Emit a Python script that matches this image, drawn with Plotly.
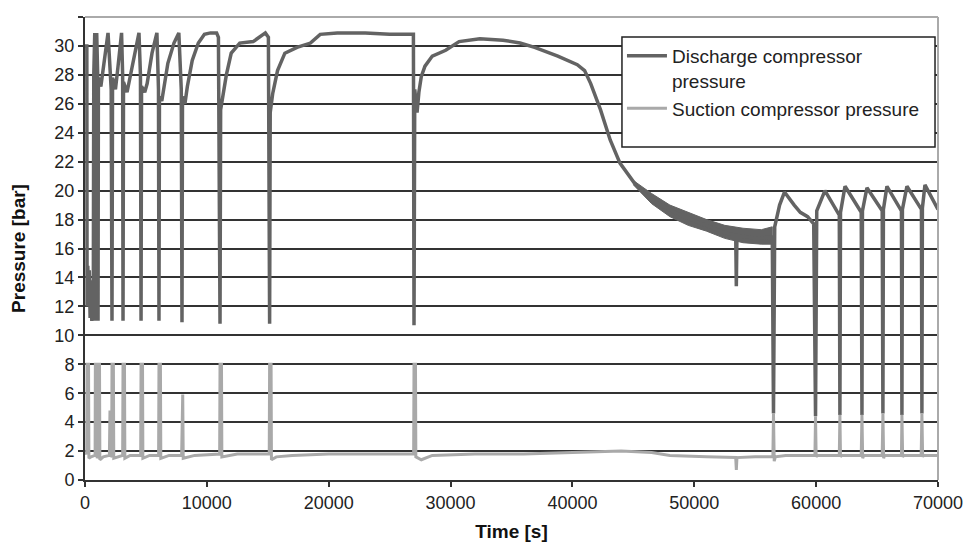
import plotly.graph_objects as go

# ---------------- data ----------------
# Discharge compressor pressure [bar] vs time [s]
discharge_t = [
    0, 150, 170, 230, 290, 350, 420, 480, 560, 620, 680, 720, 800, 830, 850, 880, 960, 1040, 1070, 1100,
    1300, 1500, 1890, 2150, 2215, 2260, 2500, 2700, 3000, 3090, 3120, 3160, 3450, 3650, 4000, 4430, 4550,
    4600, 4640, 4900, 5100, 5500, 5900, 6030, 6070, 6110, 6300, 6450, 6800, 7300, 7700, 7900, 7960, 8000,
    8200, 8400, 8800, 9300, 9800, 10300, 10800, 10950, 11080, 11130, 11300, 11600, 12000, 12700, 13800,
    14800, 15050, 15150, 15200, 15400, 15800, 16400, 17400, 18500, 19300, 20700, 23000, 25000, 26900,
    26950, 27000, 27060, 27250, 27400, 27600, 27900, 28500, 29600, 30700, 32400, 34300, 35700, 36900,
    38800, 40400, 41000, 41500, 42300, 43100, 43900, 45100, 46400, 48400, 50300, 52500, 53400, 53450,
    53500, 55200, 56400, 56500, 56600, 57000, 57400, 58200, 58700, 59300, 59800, 59950, 60050, 60720,
    61900, 61950, 62000, 62370, 63700, 63760, 63800, 64170, 65420, 65480, 65520, 65810, 67000, 67040,
    67080, 67450, 68640, 68680, 68720, 68930, 70000,
]
discharge_p = [
    30.0, 30.0, 12.0, 14.8, 12.5, 14.5, 11.2, 13.8, 11.0, 13.0, 12.0, 28.0, 30.9, 28.0, 11.0, 27.5, 30.9, 28.0, 11.0, 27.8,
    27.2, 28.5, 30.9, 27.0, 11.0, 27.8, 27.0, 28.5, 30.9, 28.0, 11.0, 27.5, 26.8, 27.6, 29.0, 30.9, 28.0,
    11.0, 27.2, 26.8, 27.4, 29.5, 30.9, 27.0, 11.0, 26.5, 26.2, 27.0, 28.8, 30.2, 30.9, 27.0, 10.9, 26.5,
    26.0, 27.2, 29.0, 30.2, 30.8, 30.9, 30.9, 30.6, 10.8, 25.6, 26.5, 28.0, 29.5, 30.2, 30.3,
    30.9, 30.6, 10.8, 25.4, 26.7, 28.3, 29.5, 29.9, 30.2, 30.8, 30.9, 30.9, 30.8, 30.8,
    30.8, 10.7, 27.0, 25.4, 26.8, 27.9, 28.6, 29.3, 29.7, 30.3, 30.5, 30.4, 30.2, 29.9,
    29.3, 28.7, 28.3, 27.4, 25.6, 23.5, 21.9, 20.5, 19.4, 18.5, 17.8, 17.1, 16.9, 13.4,
    16.9, 16.7, 16.8, 4.6, 17.5, 19.0, 19.9, 19.0, 18.5, 18.2, 17.7, 4.4, 18.6, 20.0,
    18.3, 4.5, 18.5, 20.3, 18.5, 4.5, 18.6, 20.2, 18.6, 4.6, 18.7, 20.3, 18.6, 4.5,
    18.7, 20.3, 18.7, 4.6, 18.8, 20.4, 18.7,
]

# noisy band of the discharge signal (upper / lower envelope)
band_t = [45000, 46500, 48000, 49500, 51000, 52500, 54000, 55500, 56400]
band_hi = [20.7, 19.8, 19.0, 18.5, 18.0, 17.6, 17.4, 17.3, 17.5]
band_lo = [20.4, 19.1, 18.2, 17.6, 17.2, 16.7, 16.4, 16.3, 16.3]

# Suction compressor pressure [bar] vs time [s]
suction_t = [
    0, 140, 170, 290, 320, 500, 800, 830, 850, 970, 1000, 1040, 1070, 1190, 1220, 1500, 2000, 2050, 2090,
    2190, 2215, 2330, 2360, 2700, 3090, 3120, 3240, 3270, 3700, 4570, 4600, 4720, 4750, 5300, 6040, 6070,
    6190, 6220, 6900, 7930, 7960, 8020, 8060, 9000, 11050, 11080, 11200, 11230, 12500, 15120, 15150, 15270,
    15300, 15700, 17000, 20000, 23000, 26970, 27000, 27120, 27150, 27600, 28500, 32000, 36000, 40000,
    44000, 46500, 48000, 51000, 53400, 53450, 53500, 55000, 56450, 56500, 56560, 56650, 57500, 59900,
    59950, 60000, 60100, 61900, 61950, 62000, 62100, 63700, 63760, 63820, 63900, 65420, 65480, 65540,
    65600, 67000, 67040, 67100, 67180, 68620, 68680, 68740, 68800, 70000,
]
suction_p = [
    1.9, 1.8, 8.0, 8.0, 1.5, 1.6, 1.7, 1.7, 8.0, 8.0, 1.5, 1.6, 8.0, 8.0, 1.4, 1.6, 1.7, 4.8, 1.6,
    1.7, 8.0, 8.0, 1.5, 1.6, 1.7, 8.0, 8.0, 1.5, 1.7, 1.7, 8.0, 8.0, 1.5, 1.7, 1.7, 8.0,
    8.0, 1.5, 1.7, 1.7, 5.9, 5.9, 1.5, 1.7, 1.8, 8.0, 8.0, 1.6, 1.8, 1.8, 8.0, 8.0,
    1.4, 1.6, 1.7, 1.8, 1.8, 1.8, 8.0, 8.0, 1.6, 1.4, 1.7, 1.8, 1.8, 1.9,
    2.0, 1.9, 1.7, 1.6, 1.55, 0.7, 1.55, 1.6, 1.6, 4.6, 1.3, 1.6, 1.7, 1.7,
    4.4, 1.6, 1.7, 1.7, 4.5, 1.6, 1.7, 1.7, 4.5, 1.5, 1.7, 1.7, 4.6, 1.5,
    1.7, 1.7, 4.5, 1.6, 1.7, 1.7, 4.6, 1.6, 1.7, 1.7,
]

x_ticks = [0, 10000, 20000, 30000, 40000, 50000, 60000, 70000]
y_ticks = list(range(0, 33, 2))

DISCHARGE = "#636363"
SUCTION = "#a9a9a9"
GRID = "#333333"
FONT = "Liberation Sans, Arial, sans-serif"

fig = go.Figure()

fig.add_trace(go.Scatter(
    x=band_t + band_t[::-1], y=band_hi + band_lo[::-1],
    fill="toself", fillcolor=DISCHARGE, line=dict(color=DISCHARGE, width=1),
    mode="lines", showlegend=False, hoverinfo="skip",
))
fig.add_trace(go.Scatter(
    x=discharge_t, y=discharge_p, mode="lines",
    name="Discharge compressor<br>pressure",
    line=dict(color=DISCHARGE, width=3.5),
))
fig.add_trace(go.Scatter(
    x=suction_t, y=suction_p, mode="lines",
    name="Suction compressor pressure",
    line=dict(color=SUCTION, width=3),
))

# the page adds an 8 px body margin, so the figure is 8 px smaller and margins shifted
fig.update_layout(
    width=963, height=542,
    margin=dict(l=77, r=33, t=9, b=70),
    paper_bgcolor="white", plot_bgcolor="white",
    font=dict(family=FONT, size=18, color="#222222"),
    showlegend=True,
    legend=dict(
        x=0.6295, y=0.957, xanchor="left", yanchor="top",
        bgcolor="rgba(0,0,0,0)", borderwidth=0,
        font=dict(family=FONT, size=19, color="#222222"),
        itemwidth=40, valign="top",
    ),
    xaxis=dict(
        range=[0, 70000], tickvals=x_ticks, ticktext=[str(v) for v in x_ticks],
        showgrid=False, zeroline=False, automargin=False,
        showline=True, linecolor=GRID, linewidth=2,
        ticks="outside", ticklen=5, tickwidth=2, tickcolor=GRID,
        title=dict(text="<b>Time [s]</b>", font=dict(family=FONT, size=19, color="#111111"), standoff=13),
    ),
    yaxis=dict(
        range=[0, 32], tickvals=y_ticks, ticktext=[str(v) for v in y_ticks],
        showgrid=True, gridcolor=GRID, gridwidth=2, zeroline=False, automargin=False,
        showline=True, linecolor=GRID, linewidth=2,
        ticks="outside", ticklen=5, tickwidth=2, tickcolor=GRID,
        title=dict(text="<b>Pressure [bar]</b>", font=dict(family=FONT, size=19, color="#111111"), standoff=25),
    ),
    shapes=[
        # plot frame (top / right) in light grey
        dict(type="line", xref="paper", yref="paper", x0=0, x1=1, y0=1, y1=1,
             line=dict(color="#aaaaaa", width=2), layer="above"),
        dict(type="line", xref="paper", yref="paper", x0=1, x1=1, y0=0, y1=1,
             line=dict(color="#aaaaaa", width=2), layer="above"),
        # legend box
        dict(type="rect", xref="paper", yref="paper", x0=0.6295, x1=0.9965, y0=0.7192, y1=0.9568,
             fillcolor="white", line=dict(color="#222222", width=1.5), layer="above"),
    ],
)

fig.write_html("out.html")
